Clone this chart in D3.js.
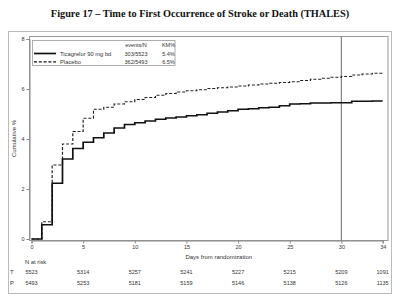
<!DOCTYPE html>
<html><head><meta charset="utf-8">
<script src="https://cdn.jsdelivr.net/npm/d3@7"></script>
<style>body{margin:0;background:#fff}svg{display:block}</style>
</head><body>
<script>
const title = "Figure 17 \u2013 Time to First Occurrence of Stroke or Death (THALES)";
const days = [0,1,2,3,4,5,6,7,8,9,10,11,12,13,14,15,16,17,18,19,20,21,22,23,24,25,26,27,28,29,30,31,32,33,34];
const ticagrelor = [0,0.57,2.23,3.2,3.62,3.87,4.05,4.24,4.44,4.58,4.65,4.72,4.79,4.84,4.88,4.93,4.97,5.03,5.08,5.13,5.19,5.21,5.25,5.27,5.33,5.4,5.41,5.44,5.44,5.45,5.45,5.51,5.51,5.52,5.52];
const placebo = [0,0.69,2.96,3.8,4.3,4.83,5.19,5.27,5.4,5.49,5.58,5.66,5.75,5.82,5.88,5.93,5.97,6.02,6.05,6.08,6.12,6.16,6.2,6.23,6.26,6.29,6.34,6.39,6.43,6.47,6.5,6.56,6.6,6.63,6.66];
const seriesNames = ["Ticagrelor 90 mg bd","Placebo"];
const eventsN = ["303/5523","362/5493"];
const kmPct = ["5.4%","6.5%"];
const xTicks = [0,5,10,15,20,25,30,34];
const yTicks = [0,2,4,6,8];
const riskDays = [0,5,10,15,20,25,30,34];
const riskLabels = ["T","P"];
const riskT = [5523,5314,5257,5241,5227,5215,5209,1091];
const riskP = [5493,5253,5181,5159,5146,5138,5126,1135];
const refDay = 30;

const W=400,H=296;
const svg=d3.select("body").append("svg").attr("width",W).attr("height",H);
const sans="'Liberation Sans', Arial, sans-serif";
const txt="#333";

svg.append("text").attr("x",200).attr("y",17).attr("text-anchor","middle")
  .attr("font-family","'Liberation Serif', 'Times New Roman', serif").attr("font-weight","bold")
  .attr("font-size",10.3).attr("fill","#111").text(title);

// outer frame
svg.append("rect").attr("x",8.5).attr("y",31.5).attr("width",383).attr("height",262)
  .attr("fill","none").attr("stroke","#bbb").attr("stroke-width",1);

const x=d3.scaleLinear().domain([0,34]).range([31.5,382.7]);
const y=d3.scaleLinear().domain([0,8]).range([239,39]);

// plot frame
const px0=29.5, px1=388, py0=36.5, py1=240.5;
svg.append("rect").attr("x",px0).attr("y",py0).attr("width",px1-px0).attr("height",py1-py0)
  .attr("fill","none").attr("stroke","#999").attr("stroke-width",1);

// axes
const yAxis=svg.append("g").attr("transform",`translate(${px0},0)`)
  .call(d3.axisLeft(y).tickValues(yTicks).tickSize(3).tickPadding(2));
const xAxis=svg.append("g").attr("transform",`translate(0,${py1})`)
  .call(d3.axisBottom(x).tickValues(xTicks).tickSize(3).tickPadding(2));
[yAxis,xAxis].forEach(g=>{
  g.select(".domain").attr("stroke","#888");
  g.selectAll(".tick line").attr("stroke","#888");
  g.selectAll(".tick text").attr("font-family",sans).attr("font-size",5.5).attr("fill",txt);
});

svg.append("text").attr("transform",`translate(16,${(py0+py1)/2}) rotate(-90)`)
  .attr("text-anchor","middle").attr("font-family",sans).attr("font-size",6).attr("fill",txt)
  .text("Cumulative %");
svg.append("text").attr("x",(px0+px1)/2+10).attr("y",259).attr("text-anchor","middle")
  .attr("font-family",sans).attr("font-size",6).attr("fill",txt).text("Days from randomization");

// reference line
svg.append("line").attr("x1",x(refDay)).attr("x2",x(refDay)).attr("y1",py0).attr("y2",py1)
  .attr("stroke","#888").attr("stroke-width",1.3);

const line=d3.line().x(d=>x(d[0])).y(d=>y(d[1])).curve(d3.curveStepAfter);
svg.append("path").datum(days.map((d,i)=>[d,placebo[i]])).attr("d",line)
  .attr("fill","none").attr("stroke","#222").attr("stroke-width",1.2).attr("stroke-dasharray","3,1.8");
svg.append("path").datum(days.map((d,i)=>[d,ticagrelor[i]])).attr("d",line)
  .attr("fill","none").attr("stroke","#111").attr("stroke-width",1.7);

// legend
const lg=svg.append("g");
lg.append("rect").attr("x",32.5).attr("y",40.5).attr("width",142.5).attr("height",25)
  .attr("fill","#fff").attr("stroke","#999").attr("stroke-width",0.8);
lg.append("text").attr("x",136).attr("y",47).attr("text-anchor","middle").attr("font-family",sans)
  .attr("font-size",5.5).attr("fill",txt).text("events/N");
lg.append("text").attr("x",168.5).attr("y",47).attr("text-anchor","middle").attr("font-family",sans)
  .attr("font-size",5.5).attr("fill",txt).text("KM%");
seriesNames.forEach((n,i)=>{
  const yy=53.5+i*8.3;
  lg.append("line").attr("x1",34).attr("x2",56).attr("y1",yy).attr("y2",yy)
    .attr("stroke","#111").attr("stroke-width",i===0?1.7:1.2).attr("stroke-dasharray",i===0?null:"3,1.8");
  lg.append("text").attr("x",60).attr("y",yy+2).attr("font-family",sans).attr("font-size",5.8).attr("fill",txt).text(n);
  lg.append("text").attr("x",136).attr("y",yy+2).attr("text-anchor","middle").attr("font-family",sans).attr("font-size",5.5).attr("fill",txt).text(eventsN[i]);
  lg.append("text").attr("x",168.5).attr("y",yy+2).attr("text-anchor","middle").attr("font-family",sans).attr("font-size",5.5).attr("fill",txt).text(kmPct[i]);
});

// risk table
svg.append("text").attr("x",25).attr("y",264).attr("font-family",sans).attr("font-size",5.8).attr("fill",txt).text("N at risk");
[riskT,riskP].forEach((row,i)=>{
  const yy=274+i*10.5;
  svg.append("text").attr("x",10).attr("y",yy).attr("font-family",sans).attr("font-size",5.8).attr("fill",txt).text(riskLabels[i]);
  svg.selectAll(null).data(row).enter().append("text")
    .attr("x",(d,j)=>x(riskDays[j])).attr("y",yy).attr("text-anchor","middle")
    .attr("font-family",sans).attr("font-size",5.5).attr("fill",txt).text(d=>d);
});
</script>
</body></html>
